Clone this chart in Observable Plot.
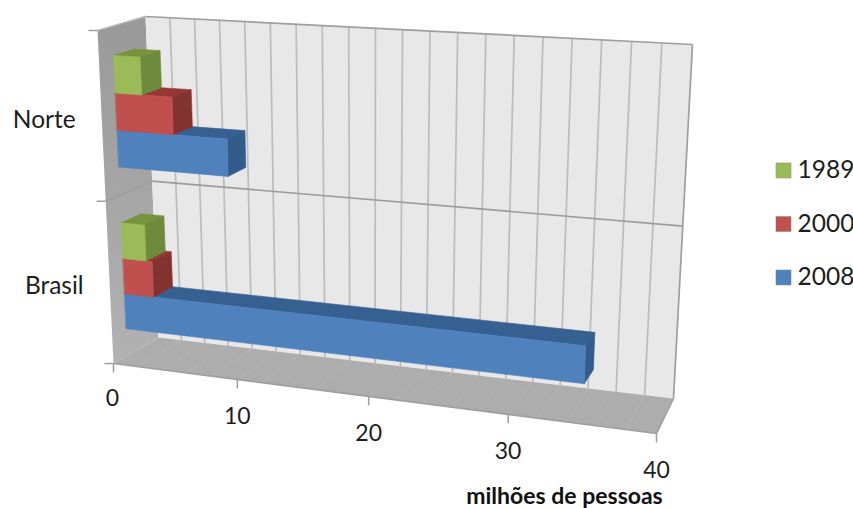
<!DOCTYPE html>
<html lang="pt">
<head>
<meta charset="utf-8">
<script src="https://cdn.jsdelivr.net/npm/d3@7"></script>
<script src="https://cdn.jsdelivr.net/npm/@observablehq/plot@0.6"></script>
<style>
  html, body { margin: 0; padding: 0; background: #fff; }
</style>
</head>
<body>
<div id="chart"></div>
<script>
// Categories and series, millions of people
const regions = ["Norte", "Brasil"];
const years = ["1989", "2000", "2008"];
const values1989 = [2.1, 1.9];
const values2000 = [4.5, 2.4];
const values2008 = [8.7, 34.7];
const xTicks = [0, 10, 20, 30, 40];
const xTitle = "milhões de pessoas";

const seriesValues = [values1989, values2000, values2008];
const faceColors = [
  {front: "#9bbb59", side: "#6e8a3c", top: "#77933c"},
  {front: "#c0504d", side: "#84322f", top: "#953735"},
  {front: "#4f81bd", side: "#335c8c", top: "#376092"}
];

// Perspective box of the chart: [depth][vertical][horizontal] corners in page pixels
const box = [
  [[[97, 30], [672, 66]], [[113, 363], [656, 433]]],
  [[[145, 16], [692, 44]], [[158, 337], [673, 398]]]
];
const maxValue = 40;
const foreshortenX = 1.128;
const foreshortenY = 0.95;
const lerp = (a, b, t) => a + (b - a) * t;

// Maps value, vertical position (0-1) and depth (0-1) to page coordinates
function project(value, v, w) {
  const u = value / maxValue;
  const tu = u / (u + foreshortenX * (1 - u));
  const tv = v / (v + foreshortenY * (1 - v));
  const at = (k) => {
    const edge = (d, r) => lerp(box[d][r][0][k], box[d][r][1][k], tu);
    return lerp(lerp(edge(0, 0), edge(0, 1), tv), lerp(edge(1, 0), edge(1, 1), tv), w);
  };
  return [at(0), at(1)];
}

function polygon(id, color, corners) {
  return corners.map((c) => {
    const [x, y] = project(...c);
    return {id, x, y, color};
  });
}

// Walls and floor
const leftWall = polygon("left", null, [[0, 0, 0], [0, 0, 1], [0, 1, 1], [0, 1, 0]]);
const backWall = polygon("back", "#e8e8e8", [[0, 0, 1], [maxValue, 0, 1], [maxValue, 1, 1], [0, 1, 1]]);
const floorPlane = polygon("floor", "#adadad", [[0, 1, 0], [0, 1, 1], [maxValue, 1, 1], [maxValue, 1, 0]]);

// Bars: two regions per half of the height, three stacked boxes per region
const bandGap = 0.085, barHeight = 0.11, depth0 = 0.31, depth1 = 0.74;
const barFaces = [];
regions.forEach((region, i) => {
  for (let s = years.length - 1; s >= 0; --s) {
    const value = seriesValues[s][i];
    const v0 = i * 0.5 + bandGap + s * barHeight;
    const v1 = v0 + barHeight;
    const col = faceColors[s];
    const key = `${region}-${years[s]}`;
    barFaces.push(
      ...polygon(`${key}-top`, col.top, [[0, v0, depth0], [value, v0, depth0], [value, v0, depth1], [0, v0, depth1]]),
      ...polygon(`${key}-side`, col.side, [[value, v0, depth0], [value, v0, depth1], [value, v1, depth1], [value, v1, depth0]]),
      ...polygon(`${key}-front`, col.front, [[0, v0, depth0], [value, v0, depth0], [value, v1, depth0], [0, v1, depth0]])
    );
  }
});

// Grid segments: one value line every 2 million, one line between the regions
const segment = (a, b) => {
  const [x1, y1] = project(...a);
  const [x2, y2] = project(...b);
  return {x1, y1, x2, y2};
};
const gridValues = d3.range(2, maxValue, 2);
const wallGrid = gridValues.map((d) => segment([d, 0, 1], [d, 1, 1]));
const floorGrid = gridValues.map((d) => segment([d, 1, 0], [d, 1, 1]));
const dividers = [
  segment([0, 0.5, 0], [0, 0.5, 1]),
  segment([0, 0.5, 1], [maxValue, 0.5, 1])
];
const borders = [
  segment([0, 0, 1], [maxValue, 0, 1]),
  segment([maxValue, 0, 1], [maxValue, 1, 1]),
  segment([maxValue, 1, 1], [maxValue, 1, 0]),
  segment([0, 1, 0], [maxValue, 1, 0])
];
const lightEdges = [
  segment([0, 0, 0], [0, 0, 1])
];

const tickLength = 9;
const xTickMarks = xTicks.map((d) => {
  const [x, y] = project(d, 1, 0);
  return {x1: x, y1: y, x2: x, y2: y + tickLength};
});
const yTickMarks = [0, 0.5, 1].map((v) => {
  const [x, y] = project(0, v, 0);
  return {x1: x - tickLength, y1: y, x2: x, y2: y};
});
const xTickLabels = xTicks.map((d) => {
  const [x, y] = project(d, 1, 0);
  return {x: x - (d === 0 ? 1 : 0), y: y + (d === 0 ? 35 : 37), label: String(d)};
});
const regionLabels = regions.map((label, i) => {
  const [x, y] = project(0, i * 0.5 + 0.25, 0);
  return {x: x - 26, y: y + 3, label};
});

// Legend entries, stacked on the right
const legendX = 783, legendTop = 170, legendStep = 53.5;
const legendEntries = years.map((label, s) => ({
  x: legendX,
  y: legendTop + s * legendStep,
  label,
  color: faceColors[s].front
}));

const textColor = "#1d1d1d";
const seg = (data, options) => Plot.link(data, {x1: "x1", y1: "y1", x2: "x2", y2: "y2", ...options});

// Vertical shading of the left wall
const wallShade = () => {
  const defs = d3.create("svg:defs");
  const gradient = defs.append("linearGradient")
    .attr("id", "wallShade")
    .attr("x1", 0).attr("y1", 0).attr("x2", 0).attr("y2", 1);
  gradient.append("stop").attr("offset", "0%").attr("stop-color", "#999999");
  gradient.append("stop").attr("offset", "100%").attr("stop-color", "#b2b2b2");
  return defs.node();
};

const polygonOptions = {x: "x", y: "y", z: "id", curve: "linear-closed"};

const chart = Plot.plot({
  width: 853,
  height: 508,
  margin: 0,
  x: {domain: [0, 853], range: [0, 853], axis: null},
  y: {domain: [0, 508], range: [0, 508], axis: null},
  color: {type: "identity"},
  style: {fontFamily: "Lato, 'Open Sans', sans-serif", background: "#fff"},
  marks: [
    wallShade,
    Plot.line(leftWall, {...polygonOptions, fill: "url(#wallShade)"}),
    Plot.line([...backWall, ...floorPlane], {...polygonOptions, fill: "color"}),
    seg(wallGrid, {stroke: "#bcbcbc", strokeWidth: 1.7}),
    seg(floorGrid, {stroke: "#b8b8b8", strokeWidth: 0.8}),
    seg(dividers, {stroke: "#9c9c9c", strokeWidth: 1.7}),
    seg(borders, {stroke: "#9e9e9e", strokeWidth: 1.7}),
    seg(lightEdges, {stroke: "#b5b5b5", strokeWidth: 1.5}),
    seg(xTickMarks, {stroke: "#9e9e9e", strokeWidth: 1.5}),
    seg(yTickMarks, {stroke: "#9e9e9e", strokeWidth: 1.5}),
    Plot.line(barFaces, {...polygonOptions, fill: "color", stroke: "color", strokeWidth: 0.6}),
    Plot.text(xTickLabels, {x: "x", y: "y", text: "label", fontSize: 23, fill: textColor}),
    Plot.text(regionLabels, {x: "x", y: "y", text: "label", fontSize: 24.5, fill: textColor, textAnchor: "end"}),
    Plot.dot(legendEntries, {x: "x", y: "y", symbol: "square", r: 8.5, fill: "color", stroke: "#8a8a8a", strokeWidth: 0.5}),
    Plot.text(legendEntries, {x: (d) => d.x + 14, y: "y", text: "label", fontSize: 24.5, fill: textColor, textAnchor: "start"}),
    Plot.text([xTitle], {x: () => 564, y: () => 496, fontSize: 23, fontWeight: 700, fill: "#111"})
  ]
});
document.getElementById("chart").appendChild(chart);
</script>
</body>
</html>
